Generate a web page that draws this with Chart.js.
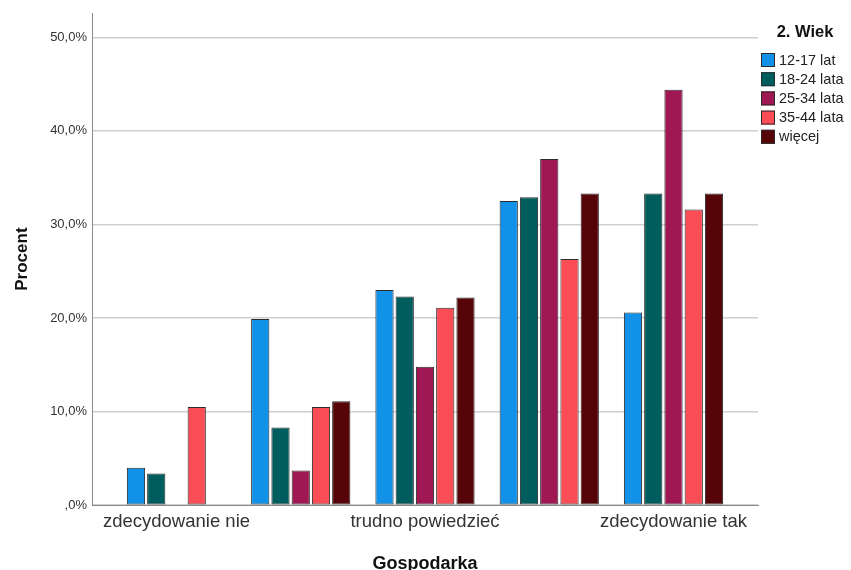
<!DOCTYPE html>
<html>
<head>
<meta charset="utf-8">
<script src="https://cdn.jsdelivr.net/npm/chart.js@4.4.1/dist/chart.umd.min.js"></script>
<style>
  html, body { margin: 0; padding: 0; background: #ffffff; overflow: hidden; }
  #wrap { width: 851px; height: 570px; overflow: hidden; }
</style>
</head>
<body>
<div id="wrap"><canvas id="chart" width="851" height="575"></canvas></div>
<script>
// Odpowiedzi na pytanie "Gospodarka" w podziale na grupy wiekowe (% w grupie)
const categories = ['zdecydowanie nie', 'raczej nie', 'trudno powiedzieć', 'raczej tak', 'zdecydowanie tak'];
const ageGroups = ['12-17 lat', '18-24 lata', '25-34 lata', '35-44 lata', 'więcej'];
const ageColors = ['#1192E8', '#005D5D', '#9F1853', '#FA4D56', '#570408'];

const age12to17 = [4.0, 19.9, 23.0, 32.5, 20.6];
const age18to24 = [3.4, 8.3, 22.3, 32.9, 33.3];
const age25to34 = [0.0, 3.7, 14.8, 37.0, 44.4];
const age35to44 = [10.5, 10.5, 21.1, 26.3, 31.6];
const ageOlder  = [0.0, 11.1, 22.2, 33.3, 33.3];

const yTickValues = [0, 10, 20, 30, 40, 50];
const legendTitle = '2. Wiek';
const xTitle = 'Gospodarka';
const yTitle = 'Procent';

const seriesValues = [age12to17, age18to24, age25to34, age35to44, ageOlder];
const FONT = '"Liberation Sans", Arial, sans-serif';

// Legenda rysowana obok obszaru wykresu
const sideLegend = {
  id: 'sideLegend',
  afterDraw(chart) {
    const { ctx, chartArea } = chart;
    const x0 = chartArea.right + 3;
    ctx.save();
    ctx.font = 'bold 16.5px ' + FONT;
    ctx.fillStyle = '#111111';
    ctx.textAlign = 'center';
    ctx.textBaseline = 'middle';
    ctx.fillText(legendTitle, x0 + 44, 32);
    chart.data.datasets.forEach((ds, i) => {
      const y = 53 + i * 19.2;
      ctx.fillStyle = ds.backgroundColor;
      ctx.fillRect(x0, y, 14, 14);
      ctx.strokeStyle = '#2b2b2b';
      ctx.lineWidth = 1;
      ctx.strokeRect(x0 + 0.5, y + 0.5, 13, 13);
      ctx.fillStyle = '#222222';
      ctx.textAlign = 'left';
      ctx.font = '14.5px ' + FONT;
      ctx.fillText(ds.label, x0 + 18, y + 7.5);
    });
    ctx.restore();
  }
};

const datasets = ageGroups.map((name, i) => ({
  label: name,
  data: seriesValues[i],
  backgroundColor: ageColors[i],
  borderColor: '#2b2b2b',
  borderWidth: 1,
  borderSkipped: false,
  categoryPercentage: 0.815,
  barPercentage: 0.9
}));

new Chart(document.getElementById('chart'), {
  type: 'bar',
  data: { labels: categories, datasets },
  plugins: [sideLegend],
  options: {
    responsive: false,
    animation: false,
    devicePixelRatio: 1,
    layout: { padding: { top: 13, right: 93, bottom: 0, left: 0 } },
    plugins: {
      legend: { display: false },
      tooltip: { enabled: false }
    },
    scales: {
      x: {
        type: 'category',
        // margines po obu stronach grup słupków
        afterBuildTicks(scale) {
          scale._startValue = -0.68;
          scale._valueRange = categories.length - 1 + 2 * 0.68;
        },
        grid: { display: false, drawTicks: false },
        border: { display: true, color: '#8a8a8a', width: 1 },
        ticks: {
          autoSkip: true,
          autoSkipPadding: 2,
          maxRotation: 0,
          minRotation: 0,
          padding: 6,
          color: '#333333',
          font: { family: FONT, size: 18.5 }
        },
        title: {
          display: true,
          text: xTitle,
          color: '#111111',
          font: { family: FONT, size: 18, weight: 'bold' },
          padding: { top: 14, bottom: 0 }
        }
      },
      y: {
        min: 0,
        max: 52.6,
        afterFit(scale) { scale.width = 92; },
        afterBuildTicks(scale) {
          scale.ticks = yTickValues.map(v => ({ value: v }));
        },
        grid: { color: '#cfcfcf', lineWidth: 1.5, drawTicks: false },
        border: { display: true, color: '#8a8a8a', width: 1 },
        ticks: {
          padding: 5,
          color: '#333333',
          font: { family: FONT, size: 13 },
          callback: v => (v === 0 ? ',0%' : v.toFixed(1).replace('.', ',') + '%')
        },
        title: {
          display: true,
          text: yTitle,
          color: '#111111',
          font: { family: FONT, size: 17, weight: 'bold' },
          padding: { top: 12, bottom: 0 }
        }
      }
    }
  }
});
</script>
</body>
</html>
